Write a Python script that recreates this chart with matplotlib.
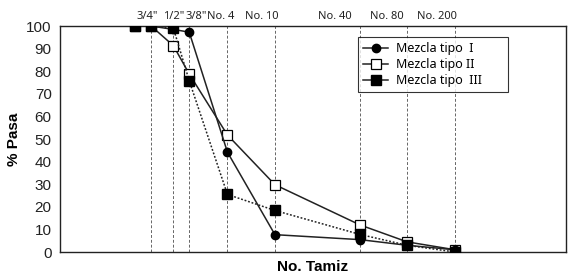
import numpy as np
import matplotlib.pyplot as plt
from matplotlib.transforms import blended_transform_factory, offset_copy

# sieve openings (mm) and their labels
sieve_mm = [25.4, 19.05, 12.7, 9.525, 4.75, 2.0, 0.425, 0.18, 0.075]
sieve_labels = ['1"', '3/4"', '1/2"', '3/8"', 'No. 4', 'No. 10', 'No. 40', 'No. 80', 'No. 200']

# % passing for each mix
tipo_1 = [100, 100, 98.5, 97.3, 44.2, 7.7, 5.5, 3.0, 1.0]
tipo_2 = [100, 100, 91.3, 78.8, 51.8, 29.8, 12.0, 4.5, 1.0]
tipo_3 = [100, 100, 99.0, 75.8, 25.5, 18.4, 7.8, 3.0, 0.0]

# horizontal nudge (points) of the top labels, as placed in the original
label_shift = [-3, 0, 5, -4.5, -9.5, -18, -15, -13.5]

plt.rcParams['font.family'] = ['Liberation Sans', 'DejaVu Sans']

fig = plt.figure(figsize=(5.72, 2.77), dpi=100)
ax = fig.add_axes([0.105, 0.09, 0.8845, 0.816])

# dashed guide lines for the labelled sieves (not 1")
for s in sieve_mm[1:]:
    ax.axvline(s, color='#666666', lw=0.7, ls=(0, (3, 2)), zorder=1)

ax.plot(sieve_mm, tipo_2, color='#222222', lw=1.1, marker='s', ms=6.5,
        mfc='white', mec='black', mew=0.9, label='Mezcla tipo II', zorder=3)
ax.plot(sieve_mm, tipo_3, color='#222222', lw=1.1, ls=(0, (1.2, 1.2)), marker='s', ms=7.8,
        mfc='black', mec='black', label='Mezcla tipo  III', zorder=4)
ax.plot(sieve_mm, tipo_1, color='#222222', lw=1.1, marker='o', ms=6,
        mfc='black', mec='black', label='Mezcla tipo  I', zorder=3)

ax.set_xscale('log')
ax.set_xlim(100, 0.01)
ax.set_ylim(0, 100)
ax.set_xticks([])
ax.set_xticks([], minor=True)
ax.set_yticks(np.arange(0, 101, 10))
ax.tick_params(axis='y', length=0, labelsize=11, pad=6, colors='#222222')

trans = blended_transform_factory(ax.transData, ax.transAxes)
for s, lab, dx in zip(sieve_mm[1:], sieve_labels[1:], label_shift):
    t = offset_copy(trans, fig=fig, x=dx, y=0, units='points')
    ax.text(s, 1.02, lab, transform=t, ha='center', va='bottom',
            fontsize=8, family=['Noto Sans', 'DejaVu Sans'], color='#222222')

ax.set_xlabel('No. Tamiz', fontsize=11, fontweight='bold', labelpad=6)
ax.set_ylabel('% Pasa', fontsize=11, fontweight='bold', labelpad=4)

for sp in ax.spines.values():
    sp.set_linewidth(1.0)
    sp.set_color('#222222')

handles, labels = ax.get_legend_handles_labels()
order = [2, 0, 1]
leg = ax.legend([handles[i] for i in order], [labels[i] for i in order],
                loc='upper left', bbox_to_anchor=(0.589, 0.951, 0.296, 0.0),
                mode='expand', frameon=True, fancybox=False, edgecolor='black',
                handlelength=2.0, handletextpad=0.6, borderpad=0.4,
                borderaxespad=0, labelspacing=0.25,
                prop={'family': 'Noto Sans', 'size': 9})
leg.get_frame().set_linewidth(0.8)
for h in leg.get_lines():
    h.set_linestyle('-')

fig.savefig('out.png', dpi=100)
